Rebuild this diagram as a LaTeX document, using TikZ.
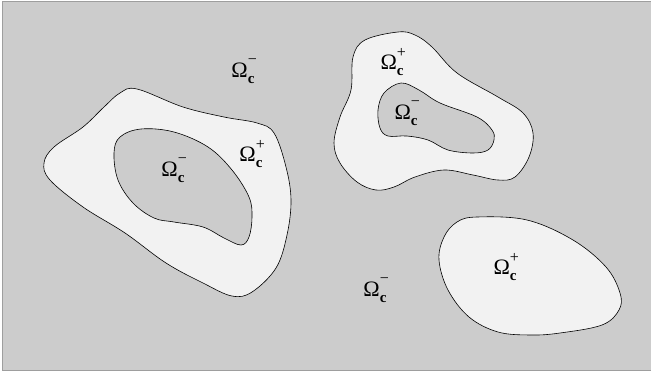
\documentclass[tikz,border=0pt]{standalone}
\usepackage{fontspec}
\setmainfont{Liberation Serif}
\usepackage{tikz}

% Omega_c with a sign stacked over the bold c
\newcommand{\omc}[1]{Ω\rlap{\raisebox{0.58em}{\fontsize{16}{16}\selectfont#1}}%
  \raisebox{-0.26em}{\fontsize{15}{15}\selectfont\bfseries c}}

\begin{document}
\begin{tikzpicture}[
    x=1pt,y=-1pt,
    label/.style={font=\fontsize{22}{26}\selectfont,inner sep=0pt},
    region/.style={draw=black,fill=black!5,line width=0.6pt},
    hole/.style={draw=black,fill=black!20,line width=0.6pt}
  ]
    \useasboundingbox (0,0) rectangle (651,375);
    % the domain
    \filldraw[fill=black!20,draw=black!38,line width=1pt]
      (2,1.5) rectangle (652,370);

    % left region with its hole
    \draw[region] plot[smooth cycle,tension=0.6] coordinates {
      (137,89) (183,107) (224,117) (257,123) (274,133) (286,167)
      (291,200) (287,235) (276,268) (252,292) (232,296) (203,283)
      (166,263) (125,233) (83,207) (50,180) (44,163) (54,147)
      (83,127) (104,107) (120,93)};
    \draw[hole] plot[smooth cycle,tension=0.6] coordinates {
      (114,153) (120,137) (141,129) (174,132) (208,147) (232,170)
      (249,197) (252,217) (249,237) (241,245) (224,238) (203,227)
      (174,222) (154,218) (133,203) (118,180)};

    % upper right region with its hole
    \draw[region] plot[smooth cycle,tension=0.6] coordinates {
      (398,32) (415,35) (432,47) (457,73) (498,97) (523,113)
      (533,133) (529,157) (515,177) (498,180) (473,175) (444,170)
      (415,177) (394,187) (376,190) (357,182) (340,163) (334,143)
      (340,117) (351,90) (353,57) (365,40)};
    \draw[hole] plot[smooth cycle,tension=0.6] coordinates {
      (401,83) (419,90) (440,103) (477,117) (492,130) (494,140)
      (488,150) (473,153) (448,150) (428,140) (407,136) (388,136)
      (380,128) (378,110) (384,93)};

    % lower right region
    \draw[region] plot[smooth cycle,tension=0.6] coordinates {
      (477,217) (527,220) (573,240) (606,267) (620,293) (619,310)
      (602,325) (560,333) (531,335) (498,332) (469,317) (448,290)
      (439,260) (444,237) (457,222)};

    \node[label] (outa) at (243,71) {\omc{−}};
    \node[label] (ringa) at (251,154) {\omc{+}};
    \node[label] (hola) at (173,170) {\omc{−}};
    \node[label] (ringb) at (392,62) {\omc{+}};
    \node[label] (holb) at (406,113) {\omc{−}};
    \node[label] (blob) at (505,267) {\omc{+}};
    \node[label] (outb) at (375,290) {\omc{−}};
  \end{tikzpicture}
\end{document}
